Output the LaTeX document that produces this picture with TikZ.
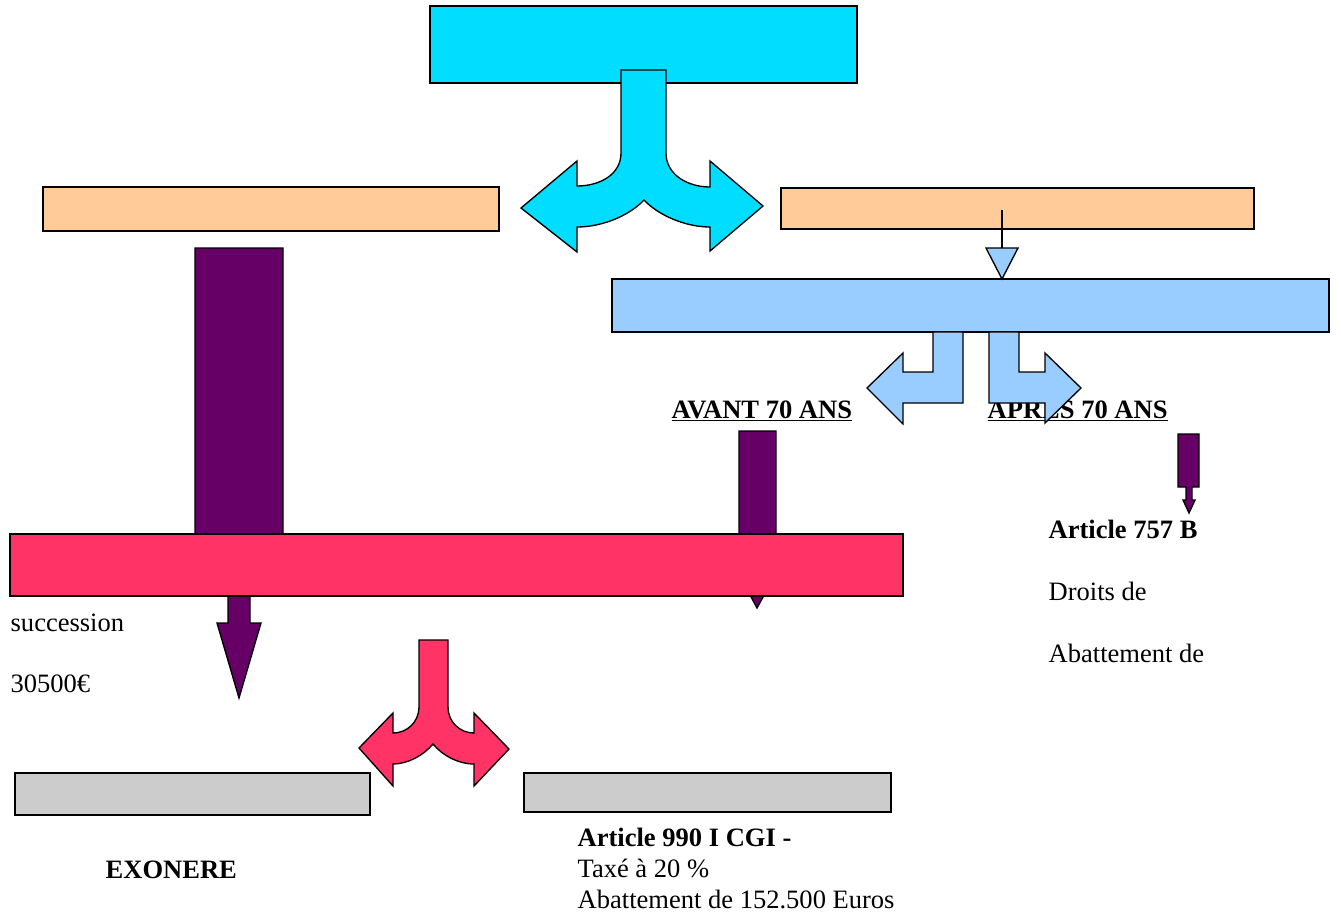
\documentclass[tikz,border=0pt]{standalone}
\usepackage{fontspec}
\setmainfont{Liberation Serif}
\definecolor{cyanbox}{RGB}{0,221,255}
\definecolor{peachbox}{RGB}{255,204,153}
\definecolor{bluebox}{RGB}{153,204,255}
\definecolor{plum}{RGB}{102,0,102}
\definecolor{pinkbox}{RGB}{255,51,102}
\definecolor{greybox}{RGB}{204,204,204}
\tikzset{every picture/.style={line width=1pt}}
\tikzset{txt/.style={anchor=base west,inner sep=0pt,font=\fontsize{19.9}{24}\selectfont}}

\begin{document}
\begin{tikzpicture}[x=0.75pt,y=0.75pt,yscale=-1,xscale=1]
	\useasboundingbox (0,0) rectangle (1341,915);

	%Shape: Rectangle [top]
	\draw [fill=cyanbox] (430,6) rectangle (857,83);
	%Shape: Split arrow [top]
	\draw [fill=cyanbox] (621,70) -- (666,70) -- (666,153) .. controls (666,175) and (688,187) .. (710,187) -- (710,161) -- (763,206) -- (710,251) -- (710,227) .. controls (685,227) and (658,215) .. (644,200) .. controls (630,215) and (603,227) .. (577,227) -- (577,252) -- (521,208) -- (577,161) -- (577,186) .. controls (599,186) and (621,175) .. (621,153) -- cycle ;

	%Shape: Rectangle [left]
	\draw [fill=peachbox] (43,187) rectangle (499,231);
	%Shape: Rectangle [right]
	\draw [fill=peachbox] (781,188) rectangle (1254,229);

	%Shape: Arrow [left, long]
	\draw [fill=plum] (195,248) -- (283,248) -- (283,565) -- (250,565) -- (250,623) -- (261,623) -- (239,698) -- (217,623) -- (228,623) -- (228,565) -- (195,565) -- cycle ;

	%Shape: Rectangle [age]
	\draw [fill=bluebox] (612,279) rectangle (1329,332);
	%Straight Lines
	\coordinate (lineA) at (1002,210);
	\coordinate (lineB) at (1002,248);
	\draw (lineA) -- (lineB);
	\draw [fill=bluebox] (986,248) -- (1018,248) -- (1002,279) -- cycle ;

	% Text Node
	\node [txt] (avant) at (671,418) {\textbf{\underline{AVANT 70 ANS}}};
	% Text Node
	\node [txt] (apres) at (987,418) {\textbf{\underline{APRES 70 ANS}}};

	%Shape: Bent arrow [left]
	\draw [fill=bluebox] (933,332) -- (963,332) -- (963,403) -- (903,403) -- (903,424) -- (867,388) -- (903,353) -- (903,372) -- (933,372) -- cycle ;
	%Shape: Bent arrow [right]
	\draw [fill=bluebox] (989,332) -- (1019,332) -- (1019,372) -- (1045,372) -- (1045,353) -- (1081,388) -- (1045,423) -- (1045,403) -- (989,403) -- cycle ;

	%Shape: Arrow [middle]
	\draw [fill=plum] (739,431) -- (776,431) -- (776,552) -- (788,552) -- (757,608) -- (727,552) -- (739,552) -- cycle ;
	%Shape: Arrow [right, small]
	\draw [fill=plum] (1178,434) -- (1199,434) -- (1199,487) -- (1192,487) -- (1192,500) -- (1195,500) -- (1189,513) -- (1183,500) -- (1186,500) -- (1186,487) -- (1178,487) -- cycle ;

	%Shape: Rectangle [donation]
	\draw [fill=pinkbox] (10,534) rectangle (903,596);
	%Shape: Split arrow [bottom]
	\draw [fill=pinkbox] (419,640) -- (448,640) -- (448,707) .. controls (448,722) and (460,733) .. (474,733) -- (474,713) -- (509,749) -- (474,786) -- (474,764) .. controls (458,764) and (442,755) .. (433,744) .. controls (424,755) and (408,764) .. (393,764) -- (393,786) -- (359,748) -- (393,713) -- (393,733) .. controls (407,733) and (419,722) .. (419,707) -- cycle ;

	%Shape: Rectangle [bottom left]
	\draw [fill=greybox] (15,773) rectangle (370,815);
	%Shape: Rectangle [bottom right]
	\draw [fill=greybox] (524,773) rectangle (891,812);

	% Text Node
	\node [txt] (art757) at (1048,538) {\textbf{Article 757 B}};
	% Text Node
	\node [txt] (droits) at (1048,600) {Droits de};
	% Text Node
	\node [txt] (abatR) at (1048,662) {Abattement de};
	% Text Node
	\node [txt] (succ) at (10,631) {succession};
	% Text Node
	\node [txt] (montant) at (10,692) {30500€};
	% Text Node
	\node [txt] (exo) at (105,878) {\textbf{EXONERE}};
	% Text Node
	\node [txt] (art990) at (577,846) {\textbf{Article 990 I CGI -}};
	% Text Node
	\node [txt] (taxe) at (577,877) {Taxé à 20 \%};
	% Text Node
	\node [txt] (abatB) at (577,908) {Abattement de 152.500 Euros};

\end{tikzpicture}
\end{document}
